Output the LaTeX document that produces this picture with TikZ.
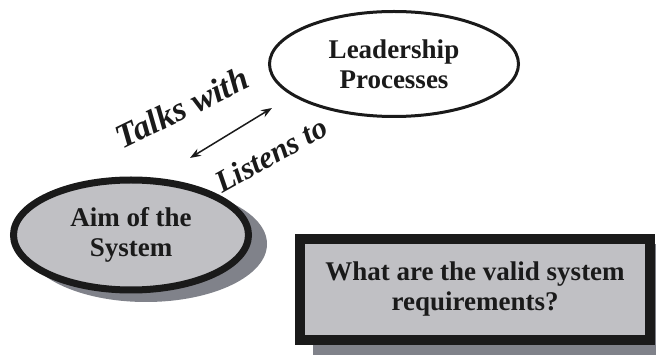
\documentclass[tikz,border=0pt]{standalone}
\usepackage{fontspec}
\setmainfont{Liberation Serif}
\usetikzlibrary{shapes.geometric,arrows.meta}
\definecolor{fillgray}{RGB}{192,192,196}
\definecolor{shadowgray}{RGB}{128,130,138}
\definecolor{edge}{RGB}{26,26,26}
\tikzset{
  lbl/.style={font=\bfseries\fontsize{27}{30}\selectfont, align=center, text=edge},
  ital/.style={text=edge, anchor=base, inner sep=0pt},
}
\begin{document}
\begin{tikzpicture}[x=1pt,y=-1pt]
\useasboundingbox (0,0) rectangle (656,355);
\clip (0,0) rectangle (656,355);
% shadows
\fill[shadowgray] (146,244) ellipse [x radius=121, y radius=58];
\fill[shadowgray] (313,244) rectangle (668,355);
% nodes
\node[ellipse, draw=edge, line width=7pt, fill=fillgray, minimum width=235pt, minimum height=110pt, lbl] (aim) at (131,235) {Aim of the\\System};
\node[ellipse, draw=edge, line width=3pt, fill=white, minimum width=249pt, minimum height=105pt, lbl] (lead) at (394,64) {Leadership\\Processes};
\node[rectangle, draw=edge, line width=10pt, fill=fillgray, minimum width=350pt, minimum height=101pt, lbl] (req) at (475,289.5) {What are the valid system\\requirements?};
% connector
\coordinate (a1) at (190,158);
\coordinate (a2) at (272,108);
\draw[edge, line width=1.5pt, {Stealth[length=11pt,width=8pt]}-{Stealth[length=11pt,width=8pt]}] (a1) -- (a2);
\node[ital, rotate=26, font=\bfseries\itshape\fontsize{34}{34}\selectfont] (talks) at (187,118) {Talks with};
\node[ital, rotate=29, font=\bfseries\itshape\fontsize{31}{31}\selectfont] (listens) at (276,164) {Listens to};
\end{tikzpicture}
\end{document}
